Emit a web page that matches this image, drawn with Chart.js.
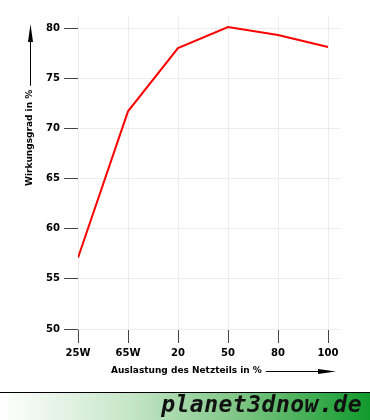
<!DOCTYPE html>
<html>
<head>
<meta charset="utf-8">
<script src="https://cdn.jsdelivr.net/npm/chart.js@4"></script>
<style>
  html, body { margin: 0; padding: 0; background: #fff; }
  #wrap { position: relative; width: 370px; height: 392px; }
  #banner {
    position: relative; width: 370px; height: 27px;
    border-top: 1px solid #000;
    background: linear-gradient(to right, #ffffff 0%, #c6e6c8 35%, #7cc583 65%, #119a2c 100%);
  }
  #banner span {
    position: absolute; right: 8px; top: -2px;
    font: italic bold 23px "DejaVu Sans Mono", monospace;
    color: #111; letter-spacing: 0.5px;
  }
</style>
</head>
<body>
<div id="wrap"><canvas id="grafico" width="370" height="392"></canvas></div>
<div id="banner"><span>planet3dnow.de</span></div>
<script>
const kategorien = ["25W", "65W", "20", "50", "80", "100"];
const wirkungsgrad = [57.1, 71.7, 78.0, 80.1, 79.3, 78.1];
const yTicks = [50, 55, 60, 65, 70, 75, 80];

const tickFont = { family: "DejaVu Sans", size: 10, weight: "bold" };

const titelPfeile = {
    id: "titelPfeile",
    afterDraw(chart) {
        const ctx = chart.ctx;
        ctx.save();
        ctx.fillStyle = "#000";
        ctx.strokeStyle = "#000";
        ctx.lineWidth = 1;
        ctx.font = "bold 9px 'DejaVu Sans'";

        // x-Achsentitel
        ctx.textBaseline = "middle";
        ctx.textAlign = "left";
        const xt = "Auslastung des Netzteils in %";
        ctx.fillText(xt, 111, 371);
        const xEnd = ctx.measureText(xt).width + 111;
        ctx.beginPath();
        ctx.moveTo(xEnd + 4, 371.5);
        ctx.lineTo(322, 371.5);
        ctx.stroke();
        ctx.beginPath();
        ctx.moveTo(336, 371.5);
        ctx.lineTo(318, 369);
        ctx.lineTo(318, 374);
        ctx.closePath();
        ctx.fill();

        // y-Achsentitel
        ctx.translate(30, 186);
        ctx.rotate(-Math.PI / 2);
        const yt = "Wirkungsgrad in %";
        ctx.fillText(yt, 0, 0);
        const yEnd = ctx.measureText(yt).width;
        ctx.beginPath();
        ctx.moveTo(yEnd + 4, 0.5);
        ctx.lineTo(148, 0.5);
        ctx.stroke();
        ctx.beginPath();
        ctx.moveTo(162, 0.5);
        ctx.lineTo(144, -2);
        ctx.lineTo(144, 3);
        ctx.closePath();
        ctx.fill();
        ctx.restore();
    }
};

new Chart(document.getElementById("grafico"), {
    type: "line",
    data: {
        datasets: [{
            data: wirkungsgrad.map((v, i) => ({ x: i, y: v })),
            borderColor: "#ff0000",
            borderWidth: 2,
            pointRadius: 0,
            tension: 0,
            fill: false
        }]
    },
    options: {
        responsive: false,
        animation: false,
        layout: { padding: { top: 17, right: 30, left: 0, bottom: 0 } },
        plugins: { legend: { display: false }, tooltip: { enabled: false } },
        scales: {
            x: {
                type: "linear",
                min: 0,
                max: kategorien.length - 1 + 0.24,
                afterBuildTicks(scale) {
                    scale.ticks = kategorien.map((_, i) => ({ value: i }));
                },
                afterFit(scale) { scale.height = 63; },
                border: { display: false },
                grid: { color: "#ececec", tickColor: "#444", tickLength: 14, lineWidth: 1 },
                ticks: {
                    font: tickFont, color: "#000", padding: 4, maxRotation: 0,
                    callback: (v) => kategorien[v]
                }
            },
            y: {
                min: 50,
                max: 81.1,
                afterBuildTicks(scale) {
                    scale.ticks = yTicks.map(v => ({ value: v }));
                },
                afterFit(scale) { scale.width = 78; },
                border: { display: false },
                grid: { color: "#ececec", tickColor: "#444", tickLength: 14, lineWidth: 1 },
                ticks: { font: tickFont, color: "#000", padding: 4 }
            }
        }
    },
    plugins: [titelPfeile]
});
</script>
</body>
</html>
